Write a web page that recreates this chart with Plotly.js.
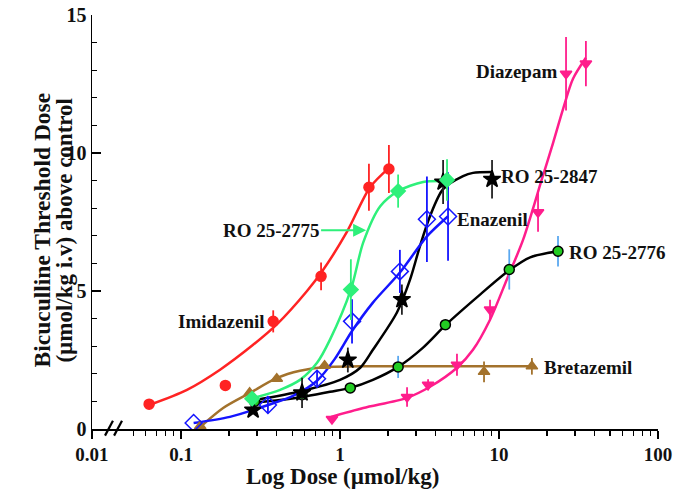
<!DOCTYPE html>
<html><head><meta charset="utf-8">
<script src="https://cdn.plot.ly/plotly-3.0.1.min.js"></script>
<style>html,body{margin:0;padding:0;background:#fff}#chart{width:685px;height:492px}</style>
</head><body><div id="chart"></div>
<script>
// ---- data ----
const imidX = [0.063, 0.19, 0.38, 0.76, 1.52, 2.03];
const imidY = [0.9, 1.58, 3.9, 5.53, 8.76, 9.42];
const imidErr = [0, 0, 0.4, 0.5, 0.85, 0.87];
const imidFitX = [0.063, 0.109, 0.176, 0.284, 0.402, 0.62, 0.78, 1.107, 1.545, 2.06];
const imidFitY = [0.87, 1.42, 2.15, 3.05, 3.8, 5.0, 5.75, 7.15, 8.76, 9.49];

const r2775X = [0.28, 1.17, 2.32, 4.71];
const r2775Y = [1.1, 5.05, 8.62, 9.02];
const r2775Err = [0, 1.1, 0.6, 0.75];
const r2775FitX = [0.288, 0.42, 0.56, 0.717, 0.865, 1.17, 1.40, 1.79, 2.32, 3.33, 4.92];
const r2775FitY = [1.13, 1.42, 1.78, 2.4, 3.24, 5.05, 6.76, 8.07, 8.62, 8.95, 8.98];

const enaX = [0.12, 0.352, 0.717, 1.19, 2.38, 3.52, 4.78];
const enaY = [0.22, 0.87, 1.82, 3.9, 5.71, 7.6, 7.7];
const enaErr = [0, 0.3, 0.3, 0.8, 0.78, 1.55, 1.6];
const enaFitX = [0.12, 0.203, 0.352, 0.506, 0.717, 0.93, 1.19, 1.61, 2.38, 3.52, 4.78];
const enaFitY = [0.22, 0.44, 0.87, 1.2, 1.75, 2.55, 3.55, 4.58, 5.67, 6.98, 7.71];

const r2847X = [0.284, 0.577, 1.12, 2.45, 4.45, 9.04];
const r2847Y = [0.69, 1.31, 2.5, 4.69, 8.95, 9.05];
const r2847Err = [0, 0.55, 0.45, 0.55, 0.8, 0.7];
const r2847FitX = [0.292, 0.577, 1.0, 1.34, 1.61, 2.28, 2.76, 3.18, 3.68, 4.45, 5.94, 6.86, 9.04];
const r2847FitY = [1.05, 1.38, 1.78, 2.22, 2.87, 4.22, 5.42, 6.62, 7.71, 8.69, 9.16, 9.28, 9.31];

const r2776X = [0.29, 0.577, 1.16, 2.32, 4.6, 11.6, 23.5];
const r2776Y = [1.0, 1.24, 1.49, 2.25, 3.78, 5.78, 6.44];
const r2776Err = [0, 0, 0, 0.4, 0, 0.73, 0.55];
const r2776FitX = [0.288, 0.42, 0.577, 0.865, 1.16, 1.61, 2.32, 3.33, 4.64, 7.6, 11.6, 15.7, 23.5];
const r2776FitY = [0.95, 1.05, 1.16, 1.35, 1.49, 1.78, 2.25, 2.95, 3.78, 4.87, 5.75, 6.22, 6.44];

const bretX = [0.132, 0.27, 0.40, 0.80, 8.05, 16.1];
const bretY = [0.1, 1.31, 1.82, 2.29, 2.07, 2.27];
const bretErr = [0, 0, 0, 0, 0.38, 0.3];
const bretFitX = [0.132, 0.184, 0.272, 0.402, 0.56, 0.805, 1.34, 16.1];
const bretFitY = [0.07, 0.76, 1.31, 1.85, 2.11, 2.25, 2.27, 2.27];

const diazX = [0.89, 2.64, 3.58, 5.44, 8.78, 17.6, 26.4, 35.2];
const diazY = [0.36, 1.16, 1.6, 2.33, 4.33, 7.85, 12.87, 13.24];
const diazErr = [0, 0.35, 0.2, 0.4, 0.35, 0.7, 1.33, 0.82];
const diazFitX = [0.878, 1.40, 2.64, 3.68, 5.44, 6.86, 8.78, 11.2, 14.2, 18.6, 21.5, 25.3, 29.2, 35.2];
const diazFitY = [0.44, 0.76, 1.13, 1.53, 2.22, 2.87, 3.96, 5.42, 6.87, 9.05, 10.22, 11.6, 12.69, 13.45];

const xTickVals = [0.02754, 0.1, 1, 10, 100];
const xTickText = ['0.01', '0.1', '1', '10', '100'];
const xMinorVals = [0.05,0.06,0.07,0.08,0.09,0.2,0.3,0.4,0.5,0.6,0.7,0.8,0.9,2,3,4,5,6,7,8,9,20,30,40,50,60,70,80,90];
const yTickVals = [0, 5, 10, 15];
const yTickText = ['0', '5', '10', '15'];

// ---- styling ----
const FONT = 'Liberation Serif, Times New Roman, serif';
const C = {red:'#ff2323', green:'#2ef07a', blue:'#1414ff', black:'#000000', lblue:'#5aa8f0', brown:'#a3722c', pink:'#ff1d8c'};

function fit(x, y, color){
  return {x:x, y:y, type:'scatter', mode:'lines', line:{color:color, width:2.5, shape:'spline', smoothing:0.8}, hoverinfo:'skip', showlegend:false};
}
function pts(x, y, err, symbol, fill, lineColor, errColor, size){
  return {x:x, y:y, type:'scatter', mode:'markers', showlegend:false,
    marker:{symbol:symbol, size:size||10, color:fill, line:{color:lineColor, width:1.5}},
    error_y:{type:'data', array:err, visible:true, color:errColor, thickness:1.8, width:0}};
}

const data = [
  fit(bretFitX, bretFitY, C.brown),
  fit(diazFitX, diazFitY, C.pink),
  fit(r2776FitX, r2776FitY, C.black),
  fit(r2847FitX, r2847FitY, C.black),
  fit(enaFitX, enaFitY, C.blue),
  fit(r2775FitX, r2775FitY, C.green),
  fit(imidFitX, imidFitY, C.red),
  pts(bretX, bretY, bretErr, 'triangle-up', C.brown, C.brown, C.brown, 10),
  pts(diazX, diazY, diazErr, 'triangle-down', C.pink, C.pink, C.pink, 10),
  pts(r2776X, r2776Y, r2776Err, 'circle', '#22cc22', C.black, C.lblue, 10),
  pts(r2847X, r2847Y, r2847Err, 'star', C.black, C.black, '#222', 13),
  pts(enaX, enaY, enaErr, 'diamond-open', C.blue, C.blue, C.blue, 13),
  pts(r2775X, r2775Y, r2775Err, 'diamond', C.green, C.green, C.green, 11),
  pts(imidX, imidY, imidErr, 'circle', C.red, C.red, C.red, 10)
];

function lbl(text, xlog, y, anchor){
  return {text:'<b>'+text+'</b>', x:xlog, y:y, xref:'x', yref:'y', xanchor:anchor, yanchor:'middle', showarrow:false,
    font:{family:FONT, size:19, color:'#111'}};
}
const bold = a => a.map(t => '<b>' + t + '</b>');

const layout = {
  width:685, height:492,
  margin:{l:92, r:27, t:15, b:63},
  paper_bgcolor:'#fff', plot_bgcolor:'#fff',
  showlegend:false,
  font:{family:FONT, color:'#111'},
  xaxis:{type:'log', range:[-1.56, 2], showgrid:false, zeroline:false,
    showline:true, linecolor:'#000', linewidth:1.5,
    tickmode:'array', tickvals:xTickVals, ticktext:bold(xTickText),
    ticks:'outside', ticklen:8, tickwidth:1.5, tickcolor:'#000',
    tickfont:{family:FONT, size:19, weight:700, color:'#111'},
    minor:{tickmode:'array', tickvals:xMinorVals, ticks:'outside', ticklen:5, tickwidth:1.3, tickcolor:'#000'}},
  yaxis:{range:[0, 15], showgrid:false, zeroline:false,
    showline:true, linecolor:'#000', linewidth:1.5,
    tickmode:'array', tickvals:yTickVals, ticktext:bold(yTickText),
    ticks:'inside', ticklen:9, tickwidth:1.5, tickcolor:'#000',
    tickfont:{family:FONT, size:20, weight:700, color:'#111'},
    minor:{tickmode:'linear', tick0:0, dtick:1, ticks:'inside', ticklen:5, tickwidth:1.3, tickcolor:'#000'}},
  annotations:[
    {text:'<b>Bicuculline Threshold Dose</b>', xref:'paper', yref:'paper', x:-0.088, y:0.48, textangle:-90,
      showarrow:false, xanchor:'center', yanchor:'middle', font:{family:FONT, size:23.5, color:'#111'}},
    {text:'<b>(µmol/kg i.v) above control</b>', xref:'paper', yref:'paper', x:-0.049, y:0.48, textangle:-90,
      showarrow:false, xanchor:'center', yanchor:'middle', font:{family:FONT, size:23, color:'#111'}},
    {text:'<b>Log Dose (µmol/kg)</b>', xref:'paper', yref:'paper', x:0.442, y:-0.114, yanchor:'middle', xanchor:'center',
      showarrow:false, font:{family:FONT, size:23, color:'#111'}},
    lbl('Imidazenil', -0.459, 3.89, 'right'),
    lbl('Enazenil', 0.723, 7.6, 'left'),
    lbl('RO 25-2847', 1.0, 9.16, 'left'),
    lbl('RO 25-2776', 1.428, 6.4, 'left'),
    lbl('Diazepam', 1.377, 12.95, 'right'),
    lbl('Bretazemil', 1.27, 2.22, 'left'),
    {text:'<b>RO 25-2775</b>', x:0.164, y:7.2, xref:'x', yref:'y', showarrow:true,
      ax:-95, ay:0, arrowcolor:C.green, arrowwidth:2, arrowhead:2, arrowsize:1.3, standoff:0,
      font:{family:FONT, size:19, color:'#111'}}
  ],
  shapes:[
    {type:'line', xref:'paper', yref:'paper', x0:0.023, y0:-0.016, x1:0.037, y1:0.02, line:{color:'#000', width:2.2}},
    {type:'line', xref:'paper', yref:'paper', x0:0.039, y0:-0.016, x1:0.053, y1:0.02, line:{color:'#000', width:2.2}}
  ]
};

Plotly.newPlot('chart', data, layout, {displayModeBar:false, staticPlot:true});
</script>
</body></html>
